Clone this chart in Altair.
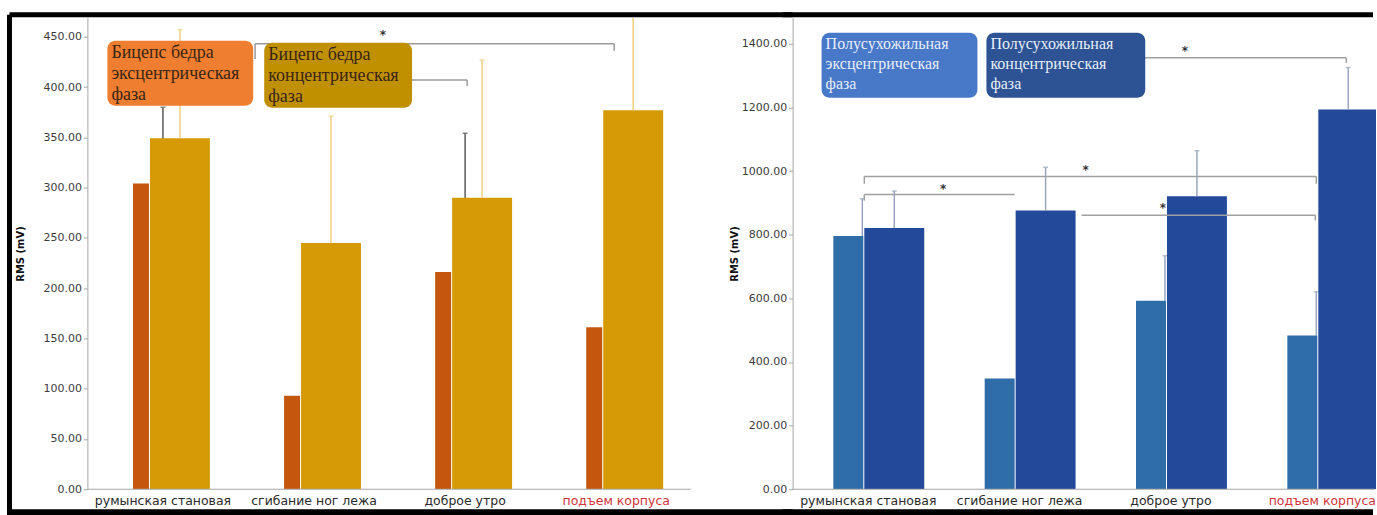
import altair as alt
import pandas as pd
import numpy as np

# ---------------- data ----------------
exercises = ["румынская становая", "сгибание ног лежа", "доброе утро", "подъем корпуса"]
highlight = "подъем корпуса"

# left panel: biceps femoris (RMS, mV)
biceps_ecc = [304, 93, 216, 161]
biceps_con = [349, 245, 290, 377]
biceps_ecc_err = [380, np.nan, 354, np.nan]
biceps_con_err = [457, 371, 427, 480]

# right panel: semitendinosus (RMS, mV)
semi_ecc = [796, 348, 592, 483]
semi_con = [821, 876, 921, 1193]
semi_ecc_err = [913, np.nan, 734, 621]
semi_con_err = [937, 1012, 1064, 1325]

left_ticks = [0, 50, 100, 150, 200, 250, 300, 350, 400, 450]
right_ticks = [0, 200, 400, 600, 800, 1000, 1200, 1400]

left_legend = [["Бицепс бедра", "эксцентрическая", "фаза"],
               ["Бицепс бедра", "концентрическая", "фаза"]]
right_legend = [["Полусухожильная", "эксцентрическая", "фаза"],
                ["Полусухожильная", "концентрическая", "фаза"]]

# significance brackets: (from, to, level, tick end at start, tick end at end, star level)
left_brackets = [
    ("сгибание ног лежа", "подъем корпуса", 443, 428, 436, 452),
    ("сгибание ног лежа", "доброе утро", 407, None, 401, None),
]
right_brackets = [
    ("доброе утро", "подъем корпуса", 1356, None, 1340, 1378),
    ("румынская становая", "подъем корпуса", 983, 960, 960, 1004),
    ("румынская становая", "сгибание ног лежа", 926, 907, None, 942),
    ("сгибание ног лежа", "подъем корпуса", 861, None, 845, 885),
]

# ---------------- styles / layout ----------------
H = 472
LW, RW = 605, 584           # visible plot widths
L_RANGE, R_RANGE = 605, 606  # pixel extent of the category scale (right one is cut by the frame)
left_bracket_style = [(-59, -2, "сгибание ног лежа", 69), (86, 2, None, 0)]
right_bracket_style = [(-72, 24, "доброе утро", 14), (-4, -6, "сгибание ног лежа", 66),
                       (-4, -5, "румынская становая", 75), (62, -7, "доброе утро", -8)]

one = pd.DataFrame({"k": [0]})
LABEL_FONT = "DejaVu Sans"
SERIF = "Liberation Serif"
AXIS_GREY = "#a6a6a6"
LABEL_DARK = "#2b2b2b"
LABEL_RED = "#d0343a"


def make_yaxis(ticks, title_pad):
    return alt.Axis(title="RMS (mV)", values=ticks, format=".2f", grid=False,
                    domainColor=AXIS_GREY, tickColor=AXIS_GREY, tickSize=4,
                    labelFont=LABEL_FONT, labelFontSize=11, labelColor="#3c3c3c",
                    labelPadding=2, titleFont=LABEL_FONT, titleFontSize=10,
                    titleFontWeight="bold", titleColor="#111111", titlePadding=title_pad)


def panel(df, ymax, ticks, title_pad, width, xrange, colors, offsets, widths, err_colors,
          err_offsets, brackets, bstyle, bcolor, legend, box_colors, box_pos, text_color,
          text_size, line_h, frame_left):
    xs = alt.Scale(domain=exercises, paddingInner=0, paddingOuter=0, range=[0, xrange])
    ys = alt.Scale(domain=[0, ymax], nice=False, zero=True)
    yaxis = make_yaxis(ticks, title_pad)

    def X():
        return alt.X("exercise:N", scale=xs, axis=None)

    def Y(f):
        return alt.Y(f"{f}:Q", scale=ys, axis=yaxis)

    def XD(c):
        return alt.XDatum(c, type="nominal", scale=xs, axis=None)

    def YD(v):
        return alt.YDatum(v, type="quantitative", scale=ys, axis=yaxis)

    base = alt.Chart(df)
    layers = []
    # error line of the eccentric bar (drawn behind)
    ecc_e = base.transform_filter("isValid(datum.ecc_err)")
    con_e = base.transform_filter("isValid(datum.con_err)")
    layers.append(ecc_e.mark_rule(
        color=err_colors[0], strokeWidth=1.5, xOffset=err_offsets[0], clip=True
    ).encode(x=X(), y=Y("ecc"), y2=alt.Y2("ecc_err:Q")))
    layers.append(ecc_e.mark_tick(
        color=err_colors[0], size=5, thickness=1.5, xOffset=err_offsets[0], clip=True
    ).encode(x=X(), y=Y("ecc_err")))
    layers.append(base.mark_bar(color=colors[0], width=widths[0], xOffset=offsets[0],
                                clip=True).encode(x=X(), y=Y("ecc")))
    layers.append(base.mark_bar(color=colors[1], width=widths[1], xOffset=offsets[1],
                                clip=True).encode(x=X(), y=Y("con")))
    layers.append(con_e.mark_rule(
        color=err_colors[1], strokeWidth=1.5, xOffset=err_offsets[1], clip=True
    ).encode(x=X(), y=Y("con"), y2=alt.Y2("con_err:Q")))
    layers.append(con_e.mark_tick(
        color=err_colors[1], size=5, thickness=1.5, xOffset=err_offsets[1], clip=True
    ).encode(x=X(), y=Y("con_err")))

    # x axis baseline and category labels (placed through the band scale)
    layers.append(alt.Chart(one).mark_rule(color=AXIS_GREY, strokeWidth=1).encode(
        x=alt.value(0), x2=alt.value(width - 1), y=alt.value(H)))
    layers.append(base.mark_text(baseline="top", font=LABEL_FONT, fontSize=12.5).encode(
        x=X(), y=alt.value(H + 6), text="exercise:N",
        color=alt.condition(alt.datum.exercise == highlight,
                            alt.value(LABEL_RED), alt.value(LABEL_DARK))))

    # significance brackets
    for (c1, c2, lvl, t1, t2, star), (o1, o2, sc, so) in zip(brackets, bstyle):
        ch = alt.Chart(one)
        layers.append(ch.mark_rule(color=bcolor, strokeWidth=1.5, xOffset=o1, x2Offset=o2).encode(
            x=XD(c1), x2=alt.X2Datum(c2), y=YD(lvl)))
        if t1 is not None:
            layers.append(ch.mark_rule(color=bcolor, strokeWidth=1.5, xOffset=o1).encode(
                x=XD(c1), y=YD(lvl), y2=alt.Y2Datum(t1)))
        if t2 is not None:
            layers.append(ch.mark_rule(color=bcolor, strokeWidth=1.5, xOffset=o2).encode(
                x=XD(c2), y=YD(lvl), y2=alt.Y2Datum(t2)))
        if star is not None:
            layers.append(ch.mark_text(text="*", xOffset=so, fontSize=12, fontWeight="bold",
                                       color="#333333", font=LABEL_FONT).encode(
                x=XD(sc), y=YD(star)))

    # legend boxes
    for lines, col, (bx1, bx2, by1, by2) in zip(legend, box_colors, box_pos):
        ch = alt.Chart(one)
        layers.append(ch.mark_rect(color=col, cornerRadius=8).encode(
            x=alt.value(bx1), x2=alt.value(bx2), y=alt.value(by1), y2=alt.value(by2)))
        layers.append(ch.mark_text(text=lines, align="left", baseline="top", font=SERIF,
                                   fontSize=text_size, lineHeight=line_h, color=text_color).encode(
            x=alt.value(bx1 + 4), y=alt.value(by1 + 3)))

    # screenshot frame
    ch = alt.Chart(one)
    right_end = width + 101 if frame_left else width - 3
    x_start = -78 if frame_left else -10
    layers.append(ch.mark_rule(color="black", strokeWidth=5).encode(
        x=alt.value(x_start), x2=alt.value(right_end), y=alt.value(-3)))
    layers.append(ch.mark_rule(color="black", strokeWidth=6).encode(
        x=alt.value(x_start), x2=alt.value(right_end), y=alt.value(495)))
    if frame_left:
        layers.append(ch.mark_rule(color="black", strokeWidth=5).encode(
            x=alt.value(-78), y=alt.value(-3), y2=alt.value(498)))

    return alt.layer(*layers).properties(width=width, height=H)


left_df = pd.DataFrame({"exercise": exercises, "ecc": biceps_ecc, "con": biceps_con,
                        "ecc_err": biceps_ecc_err, "con_err": biceps_con_err})
right_df = pd.DataFrame({"exercise": exercises, "ecc": semi_ecc, "con": semi_con,
                         "ecc_err": semi_ecc_err, "con_err": semi_con_err})

left = panel(left_df, 468.9, left_ticks, 17, LW, L_RANGE,
             ["#c4570d", "#d69a06"], [-22, 17], [16, 60],
             ["#5a5a5a", "#efd07e"], [0, 17],
             left_brackets, left_bracket_style, "#9a9a9a",
             left_legend, ["#ef7e30", "#c09000"],
             [(20, 166, 23, 88), (177, 325, 25, 90)], "#3a2613", 18, 21, True)

right = panel(right_df, 1481.6, right_ticks, 2, RW, R_RANGE,
              ["#2e6da8", "#22499a"], [-20, 26], [30, 60],
              ["#9aa6be", "#9aa6be"], [-6, 26],
              right_brackets, right_bracket_style, "#a0a0a0",
              right_legend, ["#4878c8", "#2d5394"],
              [(29, 185, 15, 80), (194, 353, 15, 80)], "#e8eef8", 16, 20, False)

chart = alt.hconcat(left, right, spacing=101, bounds="flush").properties(
    padding={"left": 6.5, "top": 11.5, "right": 0, "bottom": 0},
    background="white",
).configure_view(stroke=None)

chart.save("out.html", embed_options={"renderer": "svg", "actions": False})
